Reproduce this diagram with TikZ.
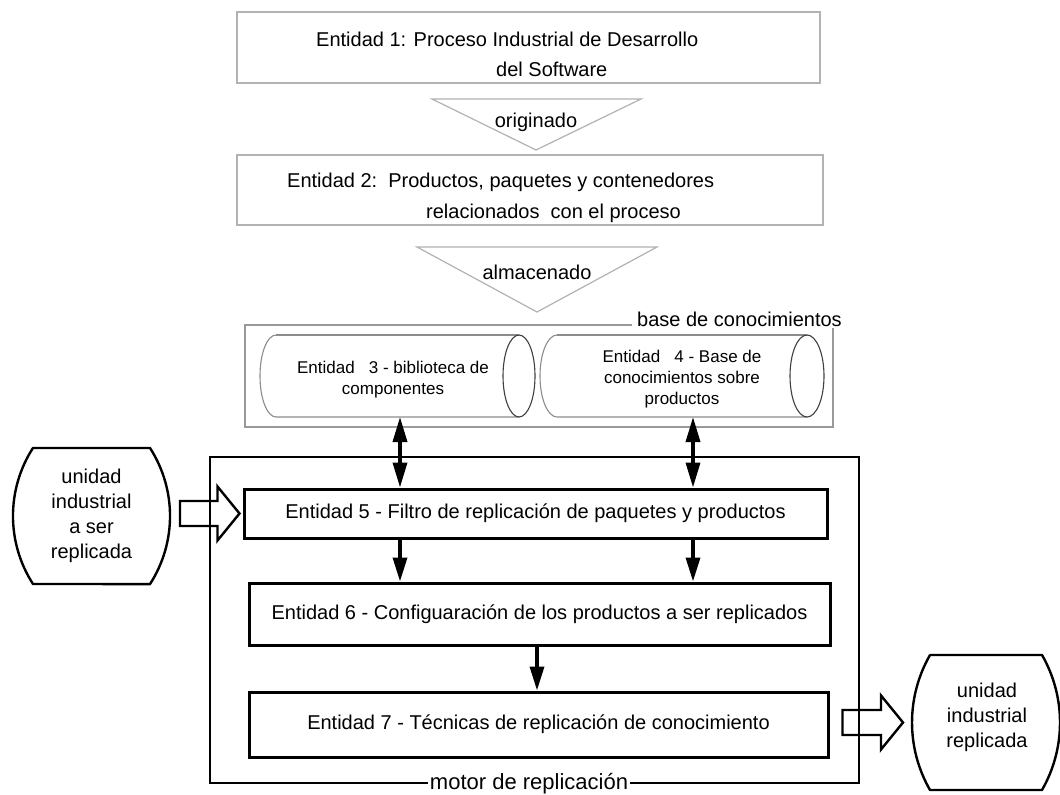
\documentclass[tikz,border=0pt]{standalone}
\usepackage{fontspec}
\setmainfont{Liberation Sans}
\usetikzlibrary{arrows.meta,calc}

\begin{document}
\begin{tikzpicture}[x=1pt,y=-1pt,
  txt/.style={font=\fontsize{20}{26}\selectfont, inner sep=0pt},
  smalltxt/.style={font=\fontsize{17}{21}\selectfont, inner sep=0pt, align=center},
  lightbox/.style={draw=black!30, line width=1.2pt, inner sep=0pt, outer sep=0pt},
  lightline/.style={draw=black!30, line width=1.2pt, line join=miter},
  kbline/.style={draw=black!40, line width=1.2pt},
  cylbody/.style={draw=black!45, line width=1.1pt},
  cylend/.style={draw=black!75, line width=1.1pt},
  cylnode/.style={draw=none, inner sep=0pt, outer sep=0pt, minimum height=82},
  entbox/.style={draw=black, line width=3pt, inner sep=0pt, font=\fontsize{20}{26}\selectfont},
  terminal/.style={draw=none, inner sep=0pt, outer sep=0pt, align=center,
     font=\fontsize{20}{25}\selectfont},
  termline/.style={draw=black, line width=2.4pt, line join=round},
  flowarrow/.style={line width=3.5pt, -{Triangle[length=24pt,width=14pt]}},
  dblarrow/.style={line width=3.5pt, {Triangle[length=25pt,width=14pt]}-{Triangle[length=25pt,width=14pt]}},
  bigarrow/.style={draw=black, line width=2.4pt, line join=miter,
     to path={let \p1=(\tikztostart), \p2=(\tikztotarget) in
       (\x1,\y2+12.5pt) -- (\x2-22pt,\y2+12.5pt) -- (\x2-22pt,\y2+27pt) -- (\x2,\y2)
       -- (\x2-22pt,\y2-27pt) -- (\x2-22pt,\y2-12.5pt) -- (\x1,\y2-12.5pt) -- cycle}}
]
\useasboundingbox (0,0) rectangle (1060,795);
\fill[white] (0,0) rectangle (1060,795);

% ---- top of the chain: process and products ----
\node[lightbox, minimum width=583, minimum height=71] (e1) at (528.5,47.5) {};
\node[txt, anchor=base west] (e1a) at (316,46) {Entidad 1: Proceso Industrial de Desarrollo};
\node[txt, anchor=base west] (e1b) at (496,76) {del Software};

\draw[lightline] (432,99) -- (641,99) -- (536,150) -- cycle;
\node[txt, anchor=base] (orig) at (536,127) {originado};

\node[lightbox, minimum width=586, minimum height=70] (e2) at (530,190) {};
\node[txt, anchor=base west] (e2a) at (287,187) {Entidad 2:\ \ Productos, paquetes y contenedores};
\node[txt, anchor=base west] (e2b) at (426,218) {relacionados\ \ con el proceso};

\draw[lightline] (417,247) -- (657,247) -- (537,312) -- cycle;
\node[txt, anchor=base] (alm) at (537,279) {almacenado};

% ---- knowledge base with its two stores ----
\node[draw=none, inner sep=0pt, outer sep=0pt, minimum width=588, minimum height=102] (kb) at (539,376) {};
\draw[kbline] (632,325) -- (kb.north west) -- (kb.south west) -- (kb.south east) -- ([yshift=-3pt]kb.north east);
\node[txt, anchor=base west] (kblbl) at (637,326) {base de conocimientos};

\node[cylnode, minimum width=275] (cyl3) at (397.5,376) {};
\node[cylnode, minimum width=284] (cyl4) at (682,376) {};
\foreach \c/\r in {cyl3/16, cyl4/17}{
  \draw[cylbody] ([xshift=\r pt]\c.north west)
     arc[start angle=90, end angle=270, x radius=\r pt, y radius=41pt]
     -- ([xshift=-\r pt]\c.south east);
  \draw[cylbody] ([xshift=\r pt]\c.north west) -- ([xshift=-\r pt]\c.north east);
  \draw[cylend] ([xshift=-\r pt]\c.east) ellipse[x radius=\r pt, y radius=41pt];
}
\node[smalltxt] (cyl3t) at (393,380) {Entidad\ \ \ 3 - biblioteca de\\componentes};
\node[smalltxt] (cyl4t) at (682,379.5) {Entidad\ \ \ 4 - Base de\\conocimientos sobre\\productos};

% ---- replication engine ----
\node[draw=black, line width=1.2pt, inner sep=0pt, minimum width=649, minimum height=326] (motor) at (534.5,620) {};
\node[fill=white, inner xsep=1.5pt, inner ysep=0pt, font=\fontsize{22}{26}\selectfont] (motorlbl)
   at ([xshift=-5.5pt]motor.south) {motor de replicación};

\node[entbox, minimum width=583, minimum height=49] (e5) at (535.5,513.5)
   {Entidad 5 - Filtro de replicación de paquetes y productos};
\node[entbox, minimum width=581, minimum height=62] (e6) at (539.5,614)
   {Entidad 6 - Configuaración de los productos a ser replicados};
\node[entbox, minimum width=579, minimum height=65] (e7) at (538.5,724.5)
   {Entidad 7 - Técnicas de replicación de conocimiento};

\coordinate (colA) at (400,0);
\coordinate (colB) at (693,0);
\coordinate (colC) at (537,0);
\draw[dblarrow] (cyl3.south -| colA) -- (e5.north -| colA);
\draw[dblarrow] (cyl4.south -| colB) -- (e5.north -| colB);
\draw[flowarrow] (e5.south -| colA) -- (e6.north -| colA);
\draw[flowarrow] (e5.south -| colB) -- (e6.north -| colB);
\draw[flowarrow] (e6.south -| colC) -- (e7.north -| colC);

% ---- input and output units: flat top and bottom, bulging sides ----
\node[terminal, minimum width=157, minimum height=136] (uin) at (91.5,516) {unidad\\industrial\\a ser\\replicada};
\draw[termline] ([xshift=20pt]uin.north west) -- ([xshift=-20pt]uin.north east)
   arc[start angle=32.8, end angle=-32.8, radius=125.6pt]
   -- ([xshift=20pt]uin.south west)
   arc[start angle=212.8, end angle=147.2, radius=125.6pt] -- cycle;

\node[terminal, minimum width=148, minimum height=135] (uout) at (986,722.5) {};
\draw[termline] ([xshift=18pt]uout.north west) -- ([xshift=-18pt]uout.north east)
   arc[start angle=29.85, end angle=-29.85, radius=135.6pt]
   -- ([xshift=18pt]uout.south west)
   arc[start angle=209.85, end angle=150.15, radius=135.6pt] -- cycle;
\node[inner sep=0pt, align=center, font=\fontsize{20}{25}\selectfont] (uoutt) at (987,717)
   {unidad\\industrial\\replicada};

\draw[bigarrow] ([xshift=10pt]uin.east) to ([xshift=-3pt]e5.west);
\draw[bigarrow] ([xshift=13pt]e7.east) to ([xshift=-9pt]uout.west);
\end{tikzpicture}
\end{document}
